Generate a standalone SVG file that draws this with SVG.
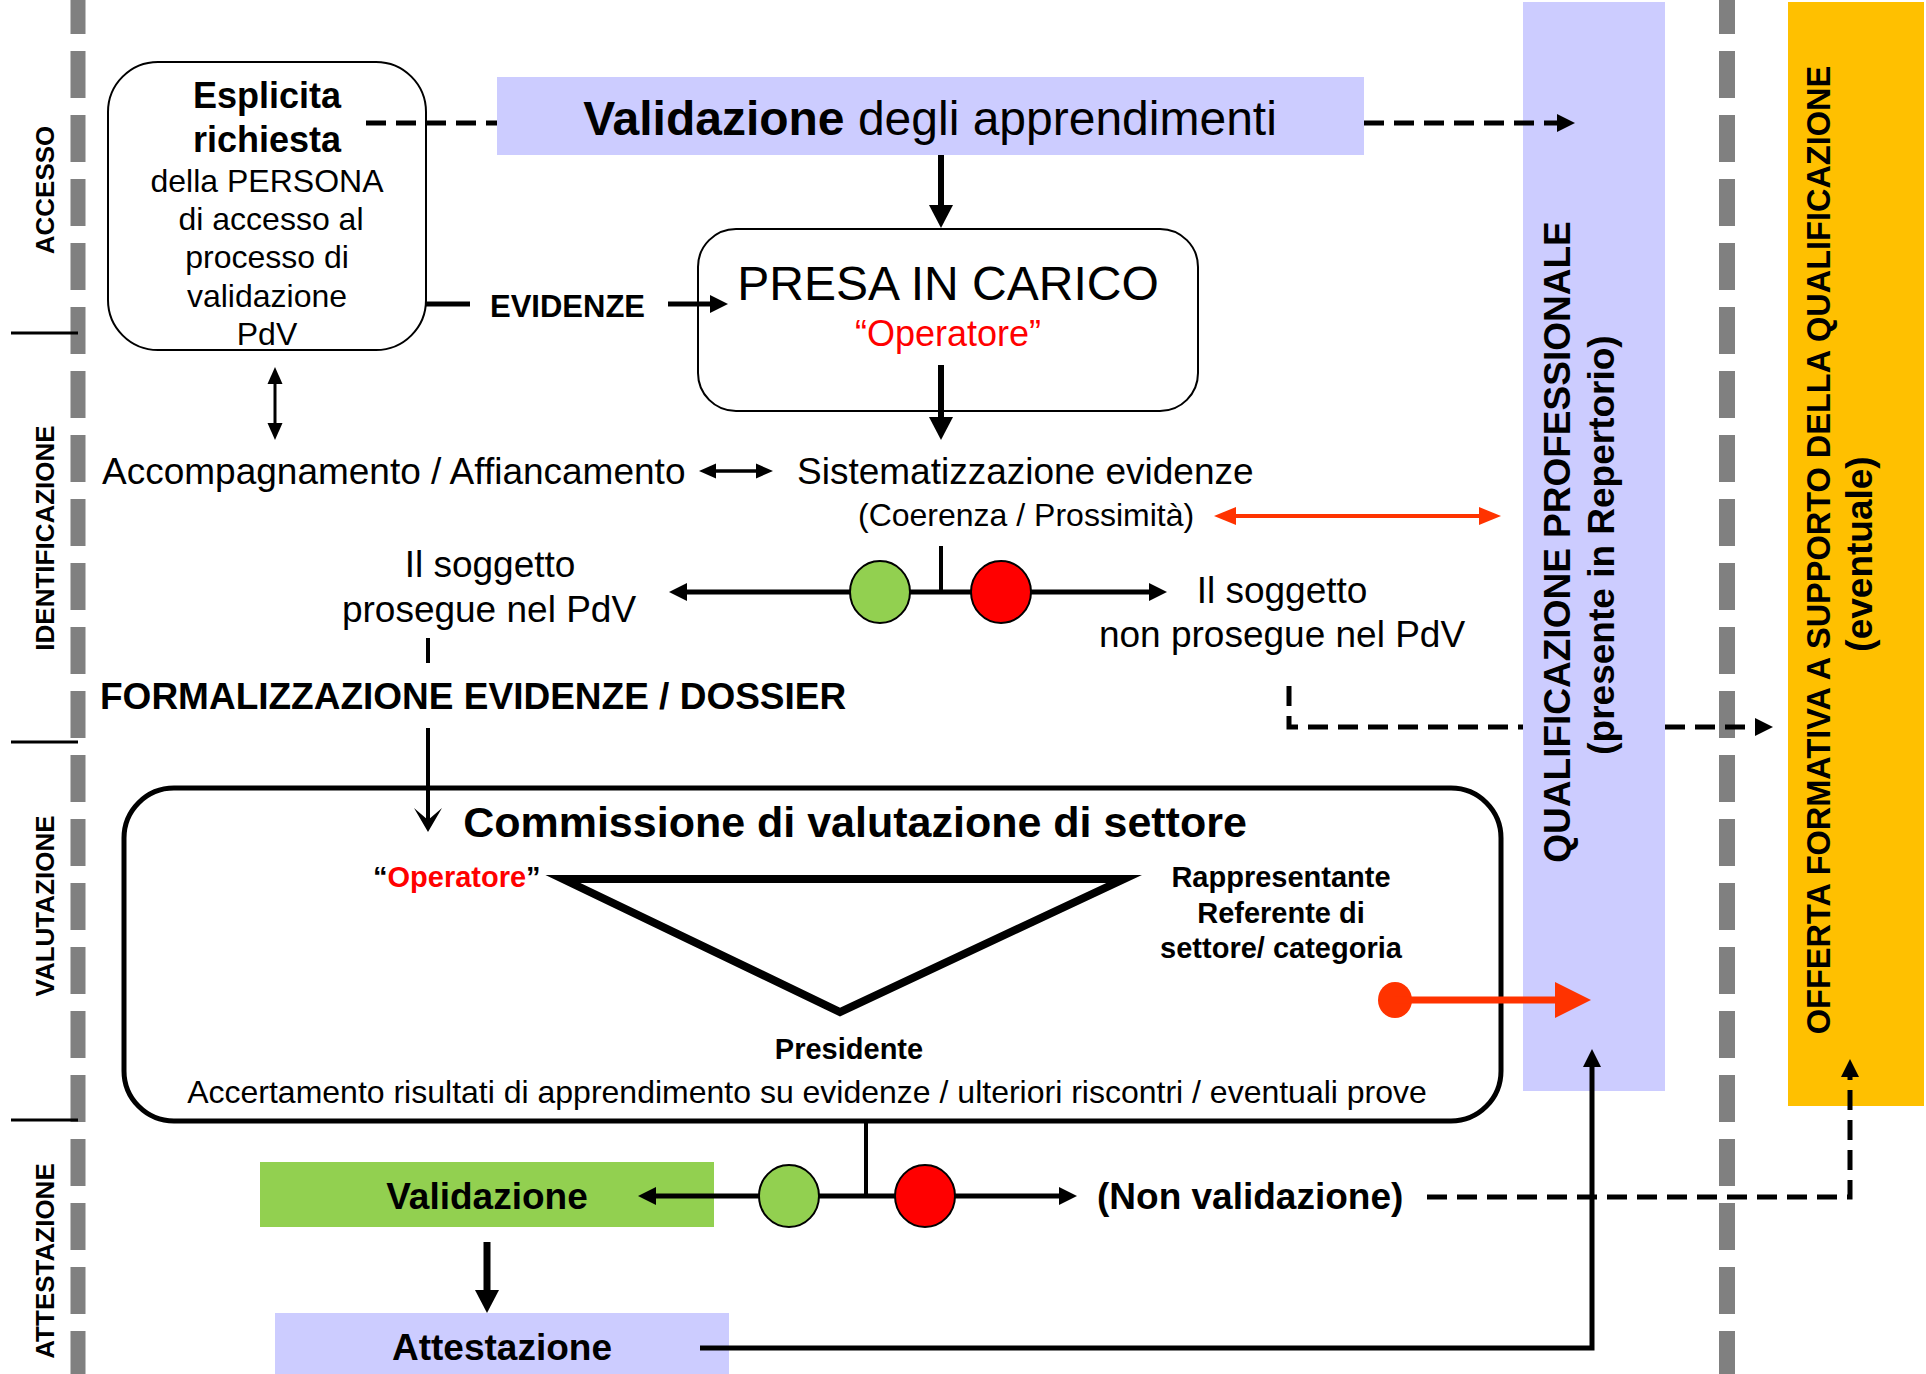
<svg xmlns="http://www.w3.org/2000/svg" width="1926" height="1374" viewBox="0 0 1926 1374">
<defs>
<style>
text{font-family:"Liberation Sans",Arial,sans-serif;fill:#000}
.b{font-weight:bold}
.m{text-anchor:middle}
.red{fill:#FF0000}
.gray{stroke:#808080;stroke-width:15;stroke-dasharray:47 17;stroke-dashoffset:13;fill:none}
.tick{stroke:#000;stroke-width:3}
.box{fill:none;stroke:#000;stroke-width:2}
.c{fill:none;stroke:#000}
.d{stroke-dasharray:20 10}
.rc{fill:none;stroke:#FF3300}
.g{fill:#92D050;stroke:#000;stroke-width:2}
.r{fill:#FF0000;stroke:#000;stroke-width:2}
.lav{fill:#CCCCFF}
</style>
<marker id="mA" markerUnits="userSpaceOnUse" markerWidth="18" markerHeight="18" refX="0" refY="9" orient="auto-start-reverse" overflow="visible"><path d="M0,0 L18,9 L0,18 z" fill="#000"/></marker>
<marker id="mB" markerUnits="userSpaceOnUse" markerWidth="23" markerHeight="24" refX="0" refY="12" orient="auto-start-reverse" overflow="visible"><path d="M0,0 L23,12 L0,24 z" fill="#000"/></marker>
<marker id="mD" markerUnits="userSpaceOnUse" markerWidth="17" markerHeight="15" refX="0" refY="7.5" orient="auto-start-reverse" overflow="visible"><path d="M0,0 L17,7.5 L0,15 z" fill="#000"/></marker>
<marker id="mR" markerUnits="userSpaceOnUse" markerWidth="22" markerHeight="18" refX="0" refY="9" orient="auto-start-reverse" overflow="visible"><path d="M0,0 L22,9 L0,18 z" fill="#FF3300"/></marker>
<marker id="mRL" markerUnits="userSpaceOnUse" markerWidth="36" markerHeight="36" refX="0" refY="18" orient="auto" overflow="visible"><path d="M0,0 L36,18 L0,36 z" fill="#FF3300"/></marker>
<marker id="mV" markerUnits="userSpaceOnUse" markerWidth="24" markerHeight="28" refX="12" refY="14" orient="auto" overflow="visible"><path d="M0,0 L24,14 L0,28 L12,14 z" fill="#000"/></marker>
</defs>
<rect width="1926" height="1374" fill="#fff"/>

<g id="phases">
<line class="gray" x1="78" y1="0" x2="78" y2="1374"/>
<line class="gray" x1="1727" y1="0" x2="1727" y2="1374" style="stroke-width:16"/>
<line class="tick" x1="11" y1="333" x2="78" y2="333"/>
<line class="tick" x1="11" y1="742" x2="78" y2="742"/>
<line class="tick" x1="11" y1="1120" x2="78" y2="1120"/>
<text class="b m" font-size="26" transform="translate(54,190) rotate(-90)">ACCESSO</text>
<text class="b m" font-size="26" transform="translate(54,538) rotate(-90)">IDENTIFICAZIONE</text>
<text class="b m" font-size="26" transform="translate(54,906) rotate(-90)">VALUTAZIONE</text>
<text class="b m" font-size="26" transform="translate(54,1261) rotate(-90)">ATTESTAZIONE</text>
</g>

<g id="qualificazione">
<rect class="lav" x="1523" y="2" width="142" height="1089"/>
<text class="b m" font-size="37" transform="translate(1570,542) rotate(-90)">QUALIFICAZIONE PROFESSIONALE</text>
<text class="b m" font-size="37" transform="translate(1614,545) rotate(-90)">(presente in Repertorio)</text>
</g>

<g id="offerta">
<rect x="1788" y="2" width="136" height="1104" fill="#FFC000"/>
<text class="b m" font-size="32.5" transform="translate(1830,550) rotate(-90)">OFFERTA FORMATIVA A SUPPORTO DELLA QUALIFICAZIONE</text>
<text class="b m" font-size="37" transform="translate(1872,554) rotate(-90)">(eventuale)</text>
</g>

<g id="esplicita">
<rect class="box" x="108" y="62" width="318" height="288" rx="50" ry="50"/>
<text class="b m" font-size="36" x="267" y="108">Esplicita</text>
<text class="b m" font-size="36" x="267" y="152">richiesta</text>
<text class="m" font-size="32" x="267" y="192">della PERSONA</text>
<text class="m" font-size="32" x="271" y="230">di accesso al</text>
<text class="m" font-size="32" x="267" y="268">processo di</text>
<text class="m" font-size="32" x="267" y="307">validazione</text>
<text class="m" font-size="32" x="267" y="345">PdV</text>
</g>

<g id="validazione-apprendimenti">
<rect class="lav" x="497" y="77" width="867" height="78"/>
<text class="m" font-size="48" x="930" y="135"><tspan class="b">Validazione</tspan> degli apprendimenti</text>
</g>

<g id="presa-in-carico">
<rect class="box" x="698" y="229" width="500" height="182" rx="38" ry="38"/>
<text class="m" font-size="48" x="948" y="300">PRESA IN CARICO</text>
<text class="m red" font-size="36" x="948" y="346">“Operatore”</text>
</g>

<g id="evidenze">
<text class="b" font-size="31" x="490" y="317">EVIDENZE</text>
</g>

<g id="accompagnamento">
<text font-size="37" x="102" y="484">Accompagnamento / Affiancamento</text>
</g>

<g id="sistematizzazione">
<text font-size="37" x="797" y="484">Sistematizzazione evidenze</text>
<text font-size="32" x="858" y="526">(Coerenza / Prossimità)</text>
</g>

<g id="prosegue">
<text class="m" font-size="37" x="490" y="577">Il soggetto</text>
<text class="m" font-size="37" x="489" y="622">prosegue nel PdV</text>
</g>

<g id="non-prosegue">
<text class="m" font-size="37" x="1282" y="603">Il soggetto</text>
<text class="m" font-size="37" x="1282" y="647">non prosegue nel PdV</text>
</g>

<g id="formalizzazione">
<text class="b" font-size="37" x="100" y="709">FORMALIZZAZIONE EVIDENZE / DOSSIER</text>
</g>

<g id="commissione">
<rect class="box" x="124" y="788" width="1377" height="333" rx="50" ry="50" style="stroke-width:5"/>
<text class="b m" font-size="43" x="855" y="837">Commissione di valutazione di settore</text>
<text class="b" font-size="29" x="373" y="887">“<tspan class="red">Operatore</tspan>”</text>
<polygon points="563,879 1124,879 840,1012" fill="none" stroke="#000" stroke-width="8" stroke-miterlimit="10"/>
<text class="b m" font-size="29" x="1281" y="887">Rappresentante</text>
<text class="b m" font-size="29" x="1281" y="923">Referente di</text>
<text class="b m" font-size="29" x="1281" y="958">settore/ categoria</text>
<text class="b m" font-size="29" x="849" y="1059">Presidente</text>
<text class="m" font-size="32" x="807" y="1103">Accertamento risultati di apprendimento su evidenze / ulteriori riscontri / eventuali prove</text>
</g>

<g id="validazione">
<rect x="260" y="1162" width="454" height="65" fill="#92D050"/>
<text class="b m" font-size="37" x="487" y="1209">Validazione</text>
</g>

<g id="non-validazione">
<text class="b" font-size="37" x="1097" y="1209">(Non validazione)</text>
</g>

<g id="attestazione">
<rect class="lav" x="275" y="1313" width="454" height="61"/>
<text class="b m" font-size="37" x="502" y="1360">Attestazione</text>
</g>

<g id="connectors">
<line class="c d" x1="366" y1="123" x2="497" y2="123" stroke-width="5"/>
<line class="c d" x1="1364" y1="123" x2="1557" y2="123" stroke-width="5" marker-end="url(#mA)"/>
<line class="c" x1="941" y1="155" x2="941" y2="205" stroke-width="6" marker-end="url(#mB)"/>
<line class="c" x1="941" y1="365" x2="941" y2="417" stroke-width="6" marker-end="url(#mB)"/>
<line class="c" x1="426" y1="304" x2="470" y2="304" stroke-width="5"/>
<line class="c" x1="668" y1="304" x2="710" y2="304" stroke-width="5" marker-end="url(#mA)"/>
<line class="c" x1="275" y1="384" x2="275" y2="423" stroke-width="3" marker-start="url(#mD)" marker-end="url(#mD)"/>
<line class="c" x1="716" y1="471" x2="756" y2="471" stroke-width="3.5" marker-start="url(#mD)" marker-end="url(#mD)"/>
<line class="rc" x1="1236" y1="516" x2="1479" y2="516" stroke-width="4" marker-start="url(#mR)" marker-end="url(#mR)"/>
<line class="c" x1="687" y1="592" x2="1149" y2="592" stroke-width="5" marker-start="url(#mA)" marker-end="url(#mA)"/>
<line class="c" x1="941" y1="546" x2="941" y2="592" stroke-width="4"/>
<path class="c d" d="M1289,686 V727 H1523" stroke-width="5"/>
<line class="c d" x1="1665" y1="727" x2="1755" y2="727" stroke-width="5" marker-end="url(#mA)"/>
<line class="c" x1="428" y1="638" x2="428" y2="663" stroke-width="4"/>
<line class="c" x1="428" y1="728" x2="428" y2="820" stroke-width="4" marker-end="url(#mV)"/>
<ellipse cx="1395" cy="1000" rx="17" ry="18" fill="#FF3300"/>
<line class="rc" x1="1395" y1="1000" x2="1555" y2="1000" stroke-width="7" marker-end="url(#mRL)"/>
<line class="c" x1="866" y1="1123" x2="866" y2="1196" stroke-width="4"/>
<line class="c" x1="656" y1="1196" x2="1059" y2="1196" stroke-width="5" marker-start="url(#mA)" marker-end="url(#mA)"/>
<line class="c" x1="487" y1="1242" x2="487" y2="1290" stroke-width="7" marker-end="url(#mB)"/>
<path class="c" d="M700,1348 H1592 V1067" stroke-width="5" marker-end="url(#mA)"/>
<path class="c d" d="M1427,1197 H1850 V1077" stroke-width="5" marker-end="url(#mA)"/>
</g>

<g id="semaforo-1">
<ellipse class="g" cx="880" cy="592" rx="30" ry="31"/>
<ellipse class="r" cx="1001" cy="592" rx="30" ry="31"/>
</g>
<g id="semaforo-2">
<ellipse class="g" cx="789" cy="1196" rx="30" ry="31"/>
<ellipse class="r" cx="925" cy="1196" rx="30" ry="31"/>
</g>
</svg>
